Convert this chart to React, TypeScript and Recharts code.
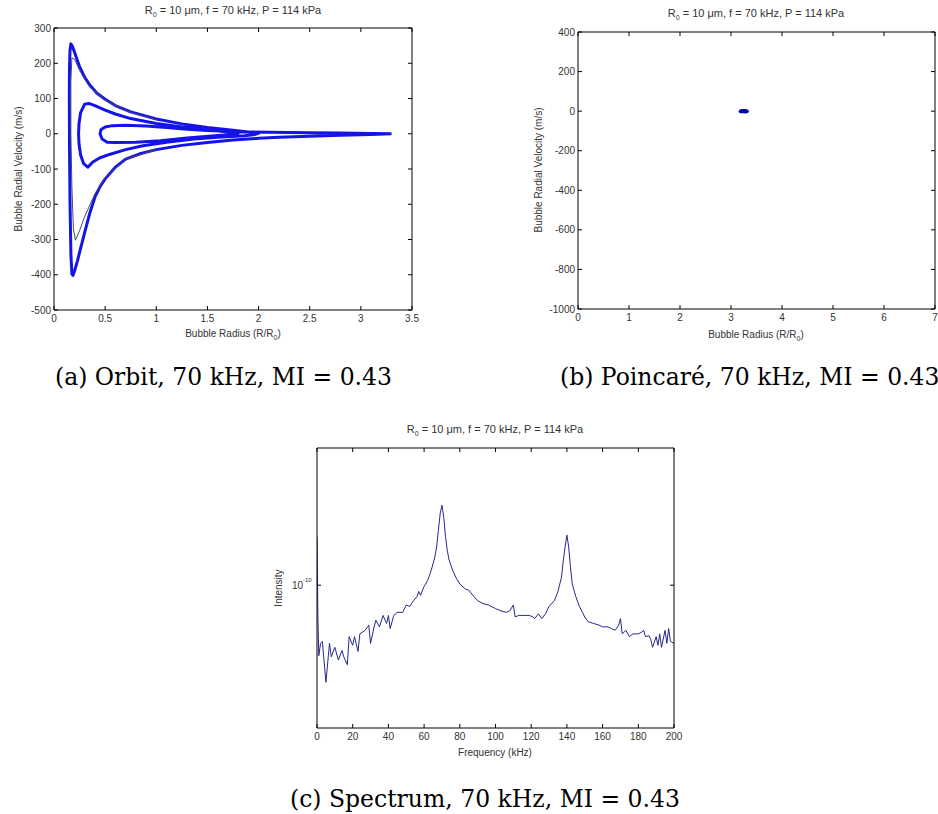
import React from 'react';
import { LineChart, Line, ScatterChart, Scatter, XAxis, YAxis, ZAxis } from 'recharts';

// ---- (a) orbit: radius (R/R0) and radial velocity (m/s), in path order ----
const orbitRadius = [
  3.3, 3.1, 2.8, 2.5, 2.2, 2.0, 1.75, 1.5, 1.25, 1.0, 0.85, 0.7, 0.6, 0.5, 0.45, 0.4, 0.35, 0.3, 0.26, 0.23, 0.2, 0.185, 0.175,
  0.165, 0.157, 0.152, 0.15, 0.151, 0.156, 0.165,
  0.18, 0.2, 0.25, 0.3, 0.35, 0.42, 0.5, 0.6, 0.75, 1.0, 1.25, 1.5, 1.75, 1.9, 2.0,
  1.95, 1.86, 1.6, 1.37, 1.1, 0.87, 0.7, 0.55, 0.45, 0.38, 0.33,
  0.29, 0.26, 0.245, 0.24, 0.245, 0.26, 0.3,
  0.34, 0.4, 0.5, 0.6, 0.75, 1.0, 1.25, 1.5, 1.7, 1.8,
  1.75, 1.6, 1.3, 1.04, 0.8, 0.6, 0.52, 0.47, 0.45,
  0.46, 0.5, 0.57, 0.7, 0.9, 1.1, 1.3, 1.5, 1.8, 2.1, 2.5, 2.8, 3.1, 3.3,
];
const orbitVelocity = [
  0, -2, -4, -7, -10, -13, -18, -25, -33, -45, -56, -72, -95, -128, -150, -180, -225, -280, -325, -360, -390, -402, -398,
  -340, -200, -50, 100, 180, 235, 255,
  248, 232, 190, 160, 138, 115, 98, 80, 62, 42, 28, 18, 10, 5, 1,
  -3, -6, -10, -15, -24, -34, -45, -58, -68, -80, -95,
  -85, -60, -30, 0, 30, 60, 84,
  86, 80, 67, 56, 43, 29, 19, 11, 5, 1,
  -2, -5, -12, -20, -24, -25, -24, -15, 0,
  12, 19, 23, 24, 22, 18, 13, 9, 6, 4, 3, 2, 1, 0,
];
// a thinner transient cycle
const transientRadius = [1.0, 0.7, 0.5, 0.4, 0.3, 0.25, 0.21, 0.19, 0.175, 0.165, 0.165, 0.175, 0.2, 0.25, 0.35, 0.5, 0.75, 1.0];
const transientVelocity = [-45, -72, -125, -170, -235, -275, -302, -270, -150, 0, 150, 215, 212, 180, 132, 95, 60, 40];

const orbitXTicks = [0, 0.5, 1, 1.5, 2, 2.5, 3, 3.5];
const orbitYTicks = [-500, -400, -300, -200, -100, 0, 100, 200, 300];

// ---- (b) Poincaré section ----
const poincareRadius = [3.21, 3.24, 3.27, 3.29];
const poincareVelocity = [0, 1, -1, 0];
const poincareXTicks = [0, 1, 2, 3, 4, 5, 6, 7];
const poincareYTicks = [-1000, -800, -600, -400, -200, 0, 200, 400];

// ---- (c) spectrum: frequency (kHz), intensity in units of 1e-10 ----
const freqKHz = [
  0, 0.5, 1, 2, 3, 5, 7, 8, 10, 12, 14, 15, 17, 18, 20, 21, 23, 24, 27, 29, 30, 32, 33, 35, 37, 39, 40, 41, 43, 45,
  48, 50, 52, 54, 56, 57, 58, 60, 62, 64, 66, 67, 68, 69, 70, 71, 72, 73, 74, 76, 78, 80, 83, 85, 88, 90, 93, 96,
  100, 103, 106, 108, 110, 111, 113, 116, 119, 121, 122, 124, 126, 128, 130, 133, 135, 137, 138, 139, 140, 141,
  142, 143, 145, 147, 150, 152, 155, 158, 160, 163, 165, 167, 169, 170, 171, 173, 175, 177, 180, 182, 183, 184,
  186, 187, 188, 190, 191, 192, 193, 195, 196, 197, 198, 200,
];
const intensityE10 = [
  1.49, 0.77, 0.56, 0.62, 0.63, 0.45, 0.62, 0.555, 0.6, 0.54, 0.585, 0.555, 0.52, 0.655, 0.61, 0.655, 0.58, 0.67,
  0.69, 0.72, 0.62, 0.71, 0.75, 0.71, 0.78, 0.73, 0.78, 0.7, 0.78, 0.8,
  0.8, 0.85, 0.84, 0.88, 0.91, 0.95, 0.92, 0.99, 1.04, 1.13, 1.26, 1.37, 1.57, 1.8, 1.93, 1.75, 1.49, 1.33, 1.23,
  1.13, 1.06, 1.01, 0.97, 0.96, 0.91, 0.88, 0.86, 0.85,
  0.825, 0.81, 0.8, 0.81, 0.85, 0.77, 0.78, 0.78, 0.78, 0.77, 0.76, 0.79, 0.76, 0.79, 0.84, 0.88, 0.95, 1.07, 1.23,
  1.37, 1.51, 1.37,
  1.16, 1.01, 0.91, 0.84, 0.77, 0.74, 0.73, 0.72, 0.71, 0.71, 0.7, 0.69, 0.72, 0.76, 0.67, 0.69, 0.655, 0.67, 0.67,
  0.68, 0.69, 0.655,
  0.66, 0.64, 0.6, 0.655, 0.61, 0.67, 0.6, 0.69, 0.62, 0.7, 0.63, 0.62,
];
const freqTicks = [0, 20, 40, 60, 80, 100, 120, 140, 160, 180, 200];
const intensityTicks = [1e-10];
const intensityDomain = [Math.pow(10, -10.51), Math.pow(10, -9.51)];

const orbitData = orbitRadius.map((r, i) => ({ r, v: orbitVelocity[i] }));
const transientData = transientRadius.map((r, i) => ({ r, v: transientVelocity[i] }));
const poincareData = poincareRadius.map((r, i) => ({ r, v: poincareVelocity[i] }));
const spectrumData = freqKHz.map((f, i) => ({ f, I: intensityE10[i] * 1e-10 }));

const FONT = '"Liberation Sans", Arial, sans-serif';
const TXT = '#333';
const TL = 4;

const BottomTick = (props: any) => {
  const { x, y, payload } = props;
  return (
    <g>
      <line x1={x} y1={y} x2={x} y2={y - TL} stroke="#000" />
      <text x={x} y={y + 12} textAnchor="middle" fontSize={10} fill={TXT} fontFamily={FONT}>
        {payload.value}
      </text>
    </g>
  );
};
const TopTick = (props: any) => {
  const { x, y } = props;
  return <line x1={x} y1={y} x2={x} y2={y + TL} stroke="#000" />;
};
const LeftTick = (props: any) => {
  const { x, y, payload } = props;
  return (
    <g>
      <line x1={x} y1={y} x2={x + TL} y2={y} stroke="#000" />
      <text x={x - 3} y={y} dy="0.35em" textAnchor="end" fontSize={10} fill={TXT} fontFamily={FONT}>
        {payload.value}
      </text>
    </g>
  );
};
const RightTick = (props: any) => {
  const { x, y } = props;
  return <line x1={x} y1={y} x2={x - TL} y2={y} stroke="#000" />;
};
const LogLeftTick = (props: any) => {
  const { x, y, payload } = props;
  const exp = Math.round(Math.log10(payload.value));
  return (
    <g>
      <line x1={x} y1={y} x2={x + TL} y2={y} stroke="#000" />
      <text x={x - 14} y={y + 4} textAnchor="end" fontSize={10} fill={TXT} fontFamily={FONT}>10</text>
      <text x={x - 14} y={y - 3} textAnchor="start" fontSize={6} fill={TXT} fontFamily={FONT}>{exp}</text>
    </g>
  );
};

const axisCommon = { stroke: '#000', tickSize: 0, tickMargin: 0, interval: 0 as const, allowDataOverflow: true };

const Title = ({ cx, cy }: { cx: number; cy: number }) => (
  <div style={{ position: 'absolute', left: cx, top: cy, transform: 'translate(-50%,-50%)', whiteSpace: 'nowrap', fontFamily: FONT, fontSize: 11, color: TXT }}>
    R<sub style={{ fontSize: 7 }}>0</sub> = 10 μm, f = 70 kHz, P = 114 kPa
  </div>
);
const Label = ({ cx, cy, rotate, children }: { cx: number; cy: number; rotate?: boolean; children: React.ReactNode }) => (
  <div style={{ position: 'absolute', left: cx, top: cy, transform: `translate(-50%,-50%)${rotate ? ' rotate(-90deg)' : ''}`, whiteSpace: 'nowrap', fontFamily: FONT, fontSize: 10, color: TXT }}>
    {children}
  </div>
);
const Caption = ({ left, cy, children }: { left: number; cy: number; children: React.ReactNode }) => (
  <div style={{ position: 'absolute', left, top: cy, transform: 'translateY(-50%)', whiteSpace: 'nowrap', fontFamily: '"DejaVu Serif", serif', fontSize: 23.5, color: '#000' }}>
    {children}
  </div>
);

const RadiusLabel = () => (
  <>Bubble Radius (R/R<sub style={{ fontSize: 7 }}>0</sub>)</>
);

export default function App() {
  return (
    <div style={{ position: 'absolute', left: 0, top: 0, width: 938, height: 814, background: '#fff', overflow: 'hidden' }}>
      {/* (a) orbit */}
      <div style={{ position: 'absolute', left: 0, top: 0 }}>
        <LineChart width={430} height={345} margin={{ top: 27, right: 17, bottom: 15, left: 14 }}>
          <XAxis type="number" dataKey="r" domain={[0, 3.5]} ticks={orbitXTicks} height={20} tick={BottomTick} {...axisCommon} />
          <XAxis xAxisId="top" orientation="top" type="number" dataKey="r" domain={[0, 3.5]} ticks={orbitXTicks} height={1} tick={TopTick} {...axisCommon} />
          <YAxis type="number" dataKey="v" domain={[-500, 300]} ticks={orbitYTicks} width={40} tick={LeftTick} {...axisCommon} />
          <YAxis yAxisId="right" orientation="right" type="number" dataKey="v" domain={[-500, 300]} ticks={orbitYTicks} width={1} tick={RightTick} {...axisCommon} />
          <Line data={orbitData} dataKey="v" type="linear" stroke="#1414e6" strokeWidth={3} strokeLinejoin="round" dot={false} isAnimationActive={false} />
          <Line data={transientData} dataKey="v" type="linear" stroke="#4a4a70" strokeWidth={1} dot={false} isAnimationActive={false} />
          <Line data={transientData} dataKey="v" xAxisId="top" yAxisId="right" stroke="none" dot={false} legendType="none" isAnimationActive={false} />
        </LineChart>
      </div>
      <Title cx={233} cy={11} />
      <Label cx={18} cy={169} rotate>Bubble Radial Velocity (m/s)</Label>
      <Label cx={233} cy={334}><RadiusLabel /></Label>

      {/* (b) Poincaré */}
      <div style={{ position: 'absolute', left: 520, top: 0 }}>
        <ScatterChart width={418} height={345} margin={{ top: 31, right: 2, bottom: 16, left: 18 }}>
          <XAxis type="number" dataKey="r" domain={[0, 7]} ticks={poincareXTicks} height={20} tick={BottomTick} {...axisCommon} />
          <XAxis xAxisId="top" orientation="top" type="number" dataKey="r" domain={[0, 7]} ticks={poincareXTicks} height={1} tick={TopTick} {...axisCommon} />
          <YAxis type="number" dataKey="v" domain={[-1000, 400]} ticks={poincareYTicks} width={40} tick={LeftTick} {...axisCommon} />
          <YAxis yAxisId="right" orientation="right" type="number" dataKey="v" domain={[-1000, 400]} ticks={poincareYTicks} width={1} tick={RightTick} {...axisCommon} />
          <ZAxis range={[20, 20]} />
          <Scatter
            data={poincareData}
            isAnimationActive={false}
            shape={(p: any) => <ellipse cx={p.cx} cy={p.cy} rx={3} ry={2} fill="#0000b4" />}
          />
          <Scatter data={poincareData} xAxisId="top" yAxisId="right" isAnimationActive={false} shape={() => <g />} />
        </ScatterChart>
      </div>
      <Title cx={756} cy={14} />
      <Label cx={538} cy={170} rotate>Bubble Radial Velocity (m/s)</Label>
      <Label cx={756} cy={335}><RadiusLabel /></Label>

      {/* (c) spectrum */}
      <div style={{ position: 'absolute', left: 270, top: 420 }}>
        <LineChart data={spectrumData} width={420} height={340} margin={{ top: 27, right: 15, bottom: 12, left: 7 }}>
          <XAxis type="number" dataKey="f" domain={[0, 200]} ticks={freqTicks} height={20} tick={BottomTick} {...axisCommon} />
          <XAxis xAxisId="top" orientation="top" type="number" dataKey="f" domain={[0, 200]} ticks={freqTicks} height={1} tick={TopTick} {...axisCommon} />
          <YAxis type="number" scale="log" domain={intensityDomain} ticks={intensityTicks} width={40} tick={LogLeftTick} {...axisCommon} />
          <YAxis yAxisId="right" orientation="right" type="number" scale="log" domain={intensityDomain} ticks={intensityTicks} width={1} tick={RightTick} {...axisCommon} />
          <Line dataKey="I" type="linear" stroke="#28288a" strokeWidth={1} dot={false} isAnimationActive={false} />
          <Line dataKey="I" xAxisId="top" yAxisId="right" stroke="none" dot={false} isAnimationActive={false} />
        </LineChart>
      </div>
      <Title cx={495} cy={430} />
      <Label cx={278} cy={588} rotate>Intensity</Label>
      <Label cx={495} cy={752}>Frequency (kHz)</Label>

      <Caption left={55} cy={377}>(a) Orbit, 70 kHz, MI = 0.43</Caption>
      <Caption left={560} cy={377}>(b) Poincaré, 70 kHz, MI = 0.43</Caption>
      <Caption left={290} cy={799}>(c) Spectrum, 70 kHz, MI = 0.43</Caption>
    </div>
  );
}
